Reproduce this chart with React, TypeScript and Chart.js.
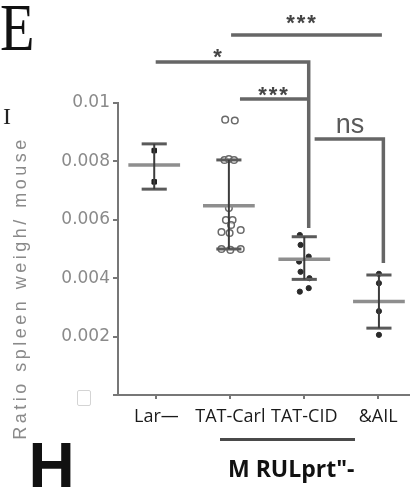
import React, { useEffect, useRef } from 'react';
import { Chart, registerables } from 'chart.js';

Chart.register(...registerables);

// ---- Data ----
const categories = ['Lar—', 'TAT-Carl', 'TAT-CID', '&AIL'];
const yTickLabels = ['', '0.002', '0.004', '0.006', '0.008', '0.01'];

const groupCenters = [0.97, 1.98, 3.0, 4.01];
const meanValues = [0.00788, 0.00648, 0.00465, 0.0032];
const errHigh = [0.0086, 0.00805, 0.00542, 0.00411];
const errLow = [0.00705, 0.005, 0.00396, 0.00229];

const larX = [0.97, 0.97];
const larY = [0.00837, 0.0073];

const carlX = [1.93, 2.06, 1.92, 1.98, 2.05, 1.98, 1.94, 2.03, 2.01, 1.88, 2.14, 1.99, 1.88, 2.0, 2.14];
const carlY = [0.00943, 0.0094, 0.00805, 0.00808, 0.00805, 0.0064, 0.00599, 0.00599, 0.00582, 0.00558, 0.00565, 0.00555, 0.005, 0.00497, 0.005];

const cidX = [2.94, 2.95, 3.06, 2.93, 2.95, 3.07, 3.06, 2.94];
const cidY = [0.00548, 0.00514, 0.00474, 0.00457, 0.00422, 0.004, 0.00366, 0.00354];

const ailX = [4.01, 4.01, 4.01, 4.01];
const ailY = [0.00415, 0.00383, 0.00287, 0.00206];

const bracketStartX = [2.01, 0.99, 2.13, 3.14];
const bracketEndX = [4.05, 3.06, 3.06, 4.07];
const bracketY = [0.01233, 0.0114, 0.01014, 0.00877];
const bracketDropY: (number | null)[] = [null, 0.00572, null, 0.00452];
const sigLabels = ['***', '*', '***', 'ns'];
const sigLabelX = [2.97, 1.84, 2.59, 3.62];
const sigLabelY = [0.01292, 0.01175, 0.01045, 0.00922];

// ---- Styles ----
const MEAN_HALF = 0.35;
const CAP_HALF = 0.17;

const lineDs = (data: { x: number; y: number }[], color: string, width: number) => ({
  type: 'scatter' as const,
  data,
  showLine: true,
  borderColor: color,
  backgroundColor: color,
  borderWidth: width,
  pointRadius: 0,
  pointHoverRadius: 0,
  clip: false as any,
  fill: false,
  tension: 0,
  borderJoinStyle: 'miter' as const,
  borderCapStyle: 'butt' as const,
});

const zip = (xs: number[], ys: number[]) => xs.map((x, i) => ({ x, y: ys[i] }));

const sigPlugin = {
  id: 'sigLabels',
  afterDatasetsDraw(chart: any) {
    const { ctx, scales } = chart;
    const xs = scales.x;
    const ys = scales.y;
    ctx.save();
    sigLabels.forEach((t, i) => {
      const px = xs.getPixelForValue(sigLabelX[i]);
      const py = ys.getPixelForValue(sigLabelY[i]);
      ctx.textAlign = 'center';
      ctx.textBaseline = 'alphabetic';
      if (t === 'ns') {
        const size = 27;
        ctx.font = `${size}px "Liberation Sans", Arial, sans-serif`;
        ctx.fillStyle = '#5a5a5a';
        (ctx as any).letterSpacing = '0px';
        ctx.fillText(t, px, py + 0.26 * size);
      } else {
        const size = 22;
        ctx.font = `bold ${size}px "Liberation Sans", Arial, sans-serif`;
        ctx.fillStyle = '#444';
        (ctx as any).letterSpacing = '2px';
        ctx.fillText(t, px, py + 0.57 * size);
      }
    });
    ctx.restore();
  },
};

export default function App() {
  const canvasRef = useRef<HTMLCanvasElement | null>(null);

  useEffect(() => {
    document.body.style.margin = '0';
    const canvas = canvasRef.current;
    if (!canvas) return;

    const datasets: any[] = [];

    // brackets
    bracketStartX.forEach((sx, i) => {
      const pts = [
        { x: sx, y: bracketY[i] },
        { x: bracketEndX[i], y: bracketY[i] },
      ];
      const drop = bracketDropY[i];
      if (drop !== null) pts.push({ x: bracketEndX[i], y: drop });
      datasets.push(lineDs(pts, '#666', 3.5));
    });

    // error bars + caps + means
    groupCenters.forEach((c, i) => {
      datasets.push(lineDs([{ x: c, y: errLow[i] }, { x: c, y: errHigh[i] }], '#3c3c3c', 2));
      datasets.push(lineDs([{ x: c - CAP_HALF, y: errHigh[i] }, { x: c + CAP_HALF, y: errHigh[i] }], '#5a5a5a', 3));
      datasets.push(lineDs([{ x: c - CAP_HALF, y: errLow[i] }, { x: c + CAP_HALF, y: errLow[i] }], '#5a5a5a', 3));
      datasets.push(lineDs([{ x: c - MEAN_HALF, y: meanValues[i] }, { x: c + MEAN_HALF, y: meanValues[i] }], '#8e8e8e', 3.5));
    });

    // points
    datasets.push({
      type: 'scatter', data: zip(larX, larY), pointRadius: 3.2, pointStyle: 'rect',
      backgroundColor: '#1e1e1e', borderColor: '#1e1e1e', borderWidth: 1, clip: false,
    });
    datasets.push({
      type: 'scatter', data: zip(carlX, carlY), pointRadius: 3.3,
      backgroundColor: 'rgba(255,255,255,0.6)', borderColor: '#6a6a6a', borderWidth: 1.5, clip: false,
    });
    datasets.push({
      type: 'scatter', data: zip(cidX, cidY), pointRadius: 2.6,
      backgroundColor: '#2a2a2a', borderColor: '#2a2a2a', borderWidth: 1, clip: false,
    });
    datasets.push({
      type: 'scatter', data: zip(ailX, ailY), pointRadius: 2.6,
      backgroundColor: '#2a2a2a', borderColor: '#2a2a2a', borderWidth: 1, clip: false,
    });

    const chart = new Chart(canvas, {
      type: 'scatter',
      data: { datasets },
      plugins: [sigPlugin],
      options: {
        responsive: false,
        animation: false,
        events: [],
        layout: { padding: { top: 103, left: 0, right: 0, bottom: 0 } },
        plugins: { legend: { display: false }, tooltip: { enabled: false }, title: { display: false } },
        scales: {
          x: {
            type: 'linear',
            position: 'bottom',
            min: 0.48,
            max: 4.41,
            afterBuildTicks: (s: any) => {
              s.ticks = categories.map((_, i) => ({ value: i + 1 }));
            },
            afterFit: (s: any) => {
              s.height = 92;
            },
            grid: { drawOnChartArea: false, drawTicks: true, tickLength: 4, color: '#777', lineWidth: 2 },
            border: { color: '#777', width: 2 },
            ticks: {
              autoSkip: false,
              maxRotation: 0,
              minRotation: 0,
              padding: 7,
              color: '#1a1a1a',
              font: { family: '"Open Sans", sans-serif', size: 18 },
              callback: (v: any) => categories[Math.round(Number(v)) - 1] ?? '',
            },
          },
          y: {
            type: 'linear',
            min: 0,
            max: 0.01,
            afterFit: (s: any) => {
              s.width = 118;
            },
            grid: { drawOnChartArea: false, drawTicks: true, tickLength: 5, color: '#777', lineWidth: 2 },
            border: { color: '#777', width: 2 },
            ticks: {
              stepSize: 0.002,
              padding: 3,
              color: '#8a8a8a',
              font: { family: '"DejaVu Sans", sans-serif', size: 17 },
              callback: (_v: any, i: number) => yTickLabels[i] ?? '',
            },
          },
        },
      },
    });

    return () => chart.destroy();
  }, []);

  return (
    <div style={{ position: 'relative', width: 414, height: 487, background: '#fff', overflow: 'hidden' }}>
      <canvas ref={canvasRef} width={414} height={487} style={{ position: 'absolute', left: 0, top: 0 }} />
      <div style={{ position: 'absolute', left: 0, top: -7, fontFamily: '"Liberation Serif", serif', fontSize: 68, lineHeight: '68px', color: '#111', transform: 'scaleX(0.83)', transformOrigin: 'left top' }}>E</div>
      <div style={{ position: 'absolute', left: 3, top: 104, fontFamily: '"Liberation Serif", serif', fontSize: 24, lineHeight: '24px', color: '#222' }}>I</div>
      <div style={{ position: 'absolute', left: 20, top: 288, transform: 'translate(-50%, -50%) rotate(-90deg)', whiteSpace: 'nowrap', fontFamily: '"Liberation Sans", Arial, sans-serif', fontSize: 18, letterSpacing: '3.5px', color: '#8a8a8a', lineHeight: '18px' }}>Ratio spleen weigh/ mouse</div>
      <div style={{ position: 'absolute', left: 77, top: 390, width: 12, height: 14, border: '1px solid #d4d4d4', borderRadius: 2, background: '#fff' }} />
      <div style={{ position: 'absolute', left: 220, top: 437.5, width: 135, height: 3, background: '#4a4a4a' }} />
      <div style={{ position: 'absolute', left: 228, top: 456.5, fontFamily: '"Open Sans", sans-serif', fontWeight: 700, fontSize: 23, lineHeight: '23px', color: '#111', whiteSpace: 'nowrap' }}>M RULprt"-</div>
      <div style={{ position: 'absolute', left: 28.5, top: 433.5, fontFamily: '"Liberation Sans", Arial, sans-serif', fontWeight: 700, fontSize: 64, lineHeight: '64px', color: '#111' }}>H</div>
    </div>
  );
}
